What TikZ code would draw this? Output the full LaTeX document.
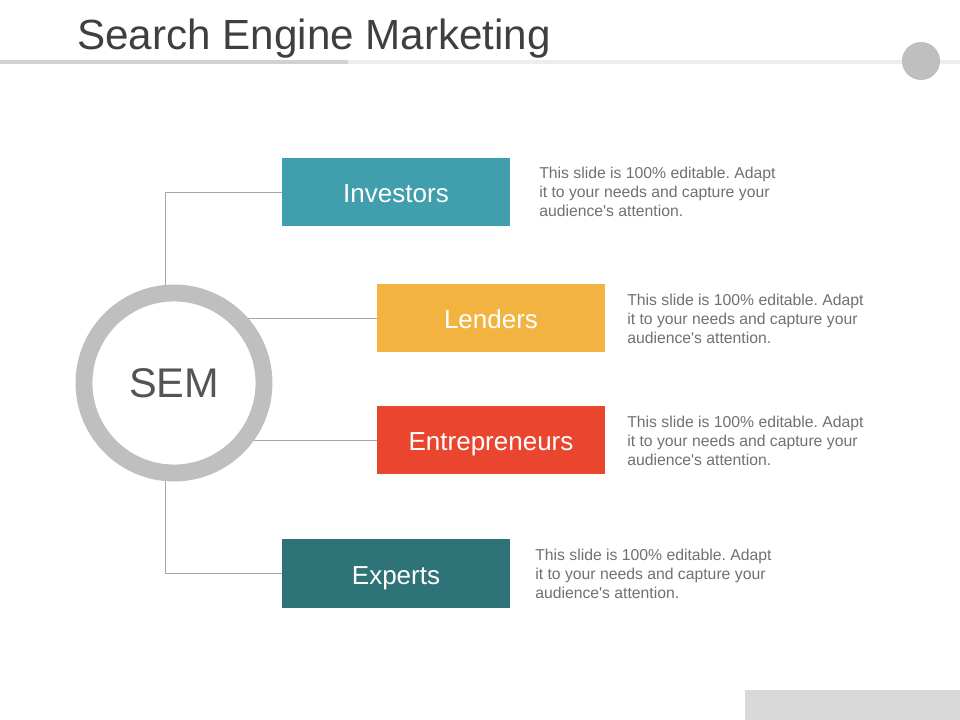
\documentclass[tikz,border=0pt]{standalone}
\usepackage{fontspec}
\setmainfont{Liberation Sans}
\usepackage{tikz}
\usetikzlibrary{calc, backgrounds}
\frenchspacing

\definecolor{InvTeal}{HTML}{419EAD}
\definecolor{LenGold}{HTML}{F2B340}
\definecolor{EntRed}{HTML}{EA452F}
\definecolor{ExpTeal}{HTML}{2E7377}
\definecolor{RingGray}{HTML}{BFBFBF}
\definecolor{LinkGray}{HTML}{A6A6A6}
\definecolor{DescGray}{HTML}{707070}
\definecolor{TitleGray}{HTML}{3F3F3F}

\newcommand{\descText}{This slide is 100\% editable. Adapt\\it to your needs and capture your\\audience\textquotesingle s attention.}

\begin{document}
\begin{tikzpicture}[x=0.025cm, y=-0.025cm]

% Page size
\useasboundingbox (0,0) rectangle (960,720);

% Set node and line styles
\tikzset{catB/.style={shape = rectangle, minimum width = 5.7cm, minimum height = 1.7cm, inner sep = 0pt, text = white, text height = 15.5pt, text depth = 0pt, font = \fontsize{18.5}{22}\selectfont}}
\tikzset{descT/.style={anchor = west, align = left, inner sep = 0pt, text = DescGray, font = \fontsize{11.2}{13.5}\selectfont}}
\tikzset{linkL/.style={draw = LinkGray, line width = 0.7pt}}

% Title and header decoration
\node (title) [anchor = base west, inner sep = 0pt, text = TitleGray, font = \fontsize{30}{36}\selectfont] at (77,50) {Search Engine Marketing};
\fill[black!18] (0,60) rectangle (348,64);
\fill[black!7] (348,60) rectangle (960,64);
\node (dot) [circle, fill = RingGray, minimum size = 0.95cm, inner sep = 0pt] at (921,61) {};
\node (foot) [fill = black!15, anchor = north west, minimum width = 5.375cm, minimum height = 0.75cm, inner sep = 0pt] at (745,690) {};

% Centre ring
\node (sem) [circle, draw = RingGray, fill = white, line width = 12pt, minimum size = 4.5cm, inner sep = 0pt, text = black!67, font = \fontsize{29.5}{34}\selectfont] at (174,383) {SEM};

% Category boxes
\node (inv) [catB, fill = InvTeal] at (396,192) {Investors};
\node (len) [catB, fill = LenGold] at (491,318) {Lenders};
\node (ent) [catB, fill = EntRed] at (491,440) {Entrepreneurs};
\node (exp) [catB, fill = ExpTeal] at (396,573.5) {Experts};

% Link ends on the ring
\coordinate (cTop) at ($ (sem.north) + (-9, 2) $);
\coordinate (cBot) at ($ (sem.south) + (-9, -2) $);

% Links
\begin{pgfonlayer}{background}
	\draw[linkL] (cTop) |- (inv.west);
	\draw[linkL] (cBot) |- (exp.west);
	\draw[linkL] (len.west) -- (len.west -| sem.center);
	\draw[linkL] (ent.west) -- (ent.west -| sem.center);
\end{pgfonlayer}

% Descriptions
\node (dinv) [descT] at (539,192) {\descText};
\node (dlen) [descT] at (627,318.5) {\descText};
\node (dent) [descT] at (627,441) {\descText};
\node (dexp) [descT] at (535,574) {\descText};

\end{tikzpicture}
\end{document}
